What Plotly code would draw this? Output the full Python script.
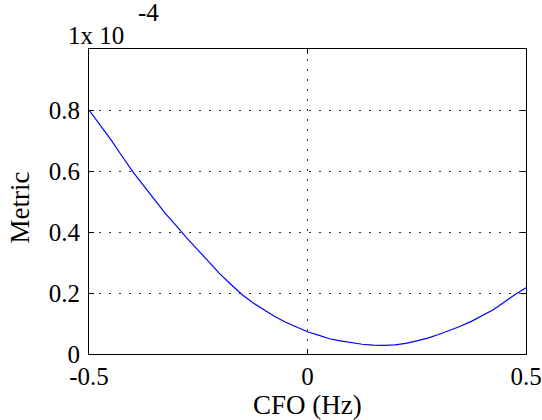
import numpy as np
import plotly.graph_objects as go

# Data (metric shown in units of 1e-4)
cfo = [-0.500, -0.475, -0.450, -0.425, -0.400, -0.375, -0.350, -0.325, -0.300, -0.275,
       -0.250, -0.225, -0.200, -0.175, -0.150, -0.125, -0.100, -0.075, -0.050, -0.025,
       0.000, 0.025, 0.050, 0.075, 0.100, 0.125, 0.150, 0.175, 0.200, 0.225,
       0.250, 0.275, 0.300, 0.325, 0.350, 0.375, 0.400, 0.425, 0.450, 0.475, 0.500]
metric_e4 = [0.800, 0.752, 0.703, 0.650, 0.598, 0.552, 0.505, 0.460, 0.420, 0.378,
             0.340, 0.300, 0.262, 0.228, 0.195, 0.168, 0.146, 0.123, 0.104, 0.088,
             0.073, 0.062, 0.050, 0.043, 0.037, 0.032, 0.029, 0.028, 0.030, 0.035,
             0.043, 0.052, 0.064, 0.077, 0.091, 0.107, 0.126, 0.145, 0.170, 0.195, 0.217]
scale = 1e-4
x_ticks = [-0.5, 0, 0.5]
x_ticktext = ["-0.5", "0", "0.5"]
y_ticks_e4 = [0, 0.2, 0.4, 0.6, 0.8]
y_ticktext = ["0", "0.2", "0.4", "0.6", "0.8"]

FONT = "Liberation Serif"
FS = 25

fig = go.Figure()
fig.add_trace(go.Scatter(x=cfo, y=np.array(metric_e4) * scale, mode="lines",
                         line=dict(color="#0000ff", width=1.2), showlegend=False))

axis_common = dict(showline=True, linecolor="black", linewidth=1.2, mirror="ticks",
                   ticks="inside", ticklen=5, tickcolor="black", zeroline=False,
                   showgrid=True, gridcolor="#333333", gridwidth=1, griddash="1.5px,8.5px",
                   automargin=False,
                   tickfont=dict(family=FONT, size=FS, color="black"))

fig.update_layout(
    width=542, height=420,
    margin=dict(l=89, r=16, t=49, b=66),
    plot_bgcolor="white", paper_bgcolor="white",
    xaxis=dict(range=[-0.5, 0.5], tickvals=x_ticks, ticktext=x_ticktext,
               ticklabelstandoff=0, **axis_common),
    yaxis=dict(range=[0, 1e-4], tickvals=[v * scale for v in y_ticks_e4] + [1e-4],
               ticktext=y_ticktext + [""], ticklabelstandoff=3, **axis_common),
    annotations=[
        dict(text="CFO (Hz)", x=0.5, y=0.0, xref="paper", yref="paper", xanchor="center",
             yanchor="middle", yshift=-51, showarrow=False,
             font=dict(family=FONT, size=27, color="black")),
        dict(text="Metric", x=0, y=0.5, xref="paper", yref="paper", xanchor="center",
             yanchor="middle", xshift=-70, yshift=-6, textangle=-90, showarrow=False,
             font=dict(family=FONT, size=27, color="black")),
        dict(text="1x 10", x=0, y=1, xref="paper", yref="paper", xanchor="left",
             yanchor="bottom", xshift=-23, yshift=-2, showarrow=False,
             font=dict(family=FONT, size=FS, color="black")),
        dict(text="-4", x=0, y=1, xref="paper", yref="paper", xanchor="left",
             yanchor="bottom", xshift=47, yshift=21, showarrow=False,
             font=dict(family=FONT, size=FS, color="black")),
    ],
)

fig.write_html("out.html")
